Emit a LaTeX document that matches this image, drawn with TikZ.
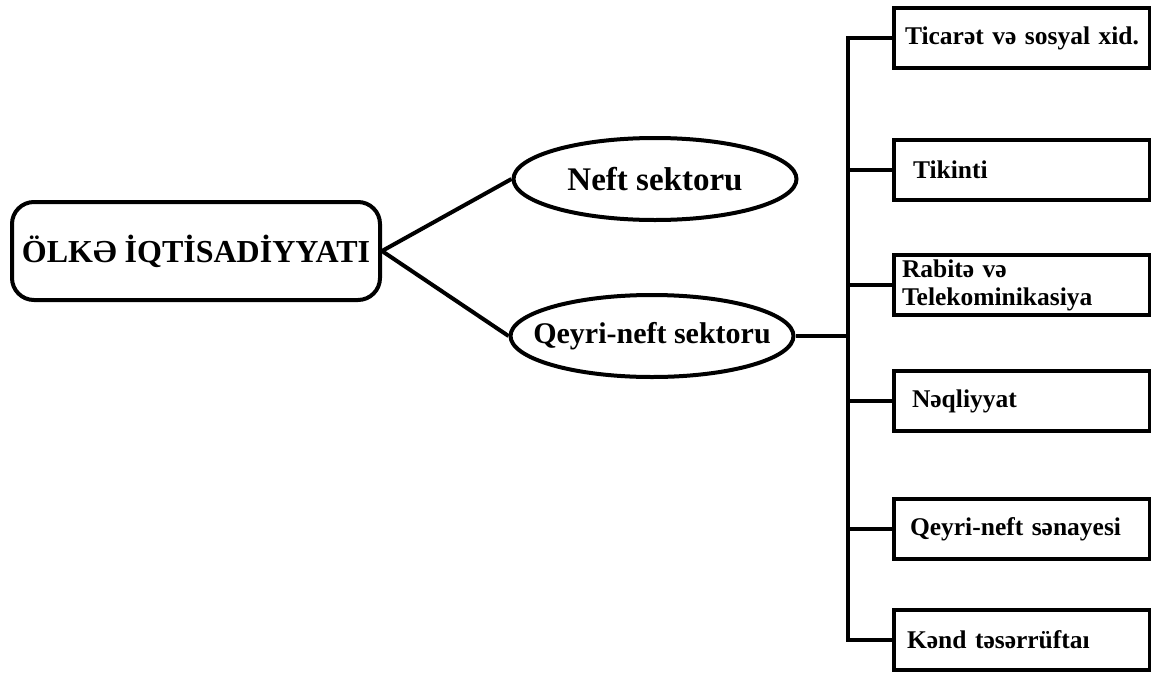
\documentclass[tikz,border=0pt]{standalone}
\usepackage{fontspec}
\setmainfont{Liberation Serif}
\usetikzlibrary{shapes.geometric}
\begin{document}
\begin{tikzpicture}[x=1pt, y=-1pt, line width=4pt,
	mainbox/.style={draw, rounded corners=22pt, minimum width=368pt, minimum height=98pt, inner sep=0pt, font=\fontsize{32}{36}\selectfont\bfseries},
	sector/.style={draw, ellipse, minimum width=283pt, minimum height=82pt, inner xsep=-60pt, inner ysep=0pt, font=\fontsize{30}{34}\selectfont\bfseries},
	branch/.style={draw, anchor=west, minimum height=60pt, text width=244pt, inner xsep=6pt, inner ysep=1pt, align=left, font=\fontsize{25.5}{28}\selectfont\bfseries}]
	\useasboundingbox (0, 0) rectangle (1151, 672);
	\node[mainbox] (iqtisadiyyat) at (196, 251) {ÖLKƏ İQTİSADİYYATI};
	\node[sector, font=\fontsize{33}{36}\selectfont\bfseries] (neft) at (655, 179) {Neft sektoru};
	\node[sector] (qeyrineft) at (652, 336) {Qeyri-neft sektoru};
	\node[branch] (ticaret) at (892, 38) {\hspace*{5pt}Ticarət və sosyal xid.};
	\node[branch] (tikinti) at (892, 170) {\hspace*{13pt}Tikinti};
	\node[branch] (rabite) at (892, 285) {\hspace*{2pt}Rabitə və\\\hspace*{2pt}Telekominikasiya};
	\node[branch] (neqliyyat) at (892, 401) {\hspace*{12pt}Nəqliyyat};
	\node[branch] (senaye) at (892, 529) {\hspace*{10pt}Qeyri-neft sənayesi};
	\node[branch] (kend) at (892, 640) {\hspace*{7pt}Kənd təsərrüftaı};
	\coordinate (bus) at (848, 0);
	\draw (iqtisadiyyat.east) -- (neft.west);
	\draw (iqtisadiyyat.east) -- (qeyrineft.west);
	\draw (qeyrineft.east) -- (qeyrineft.east -| bus);
	\draw (ticaret.west) -- (ticaret.west -| bus) -- (kend.west -| bus) -- (kend.west);
	\foreach \b in {tikinti, rabite, neqliyyat, senaye}
		\draw (\b.west) -- (\b.west -| bus);
\end{tikzpicture}
\end{document}
